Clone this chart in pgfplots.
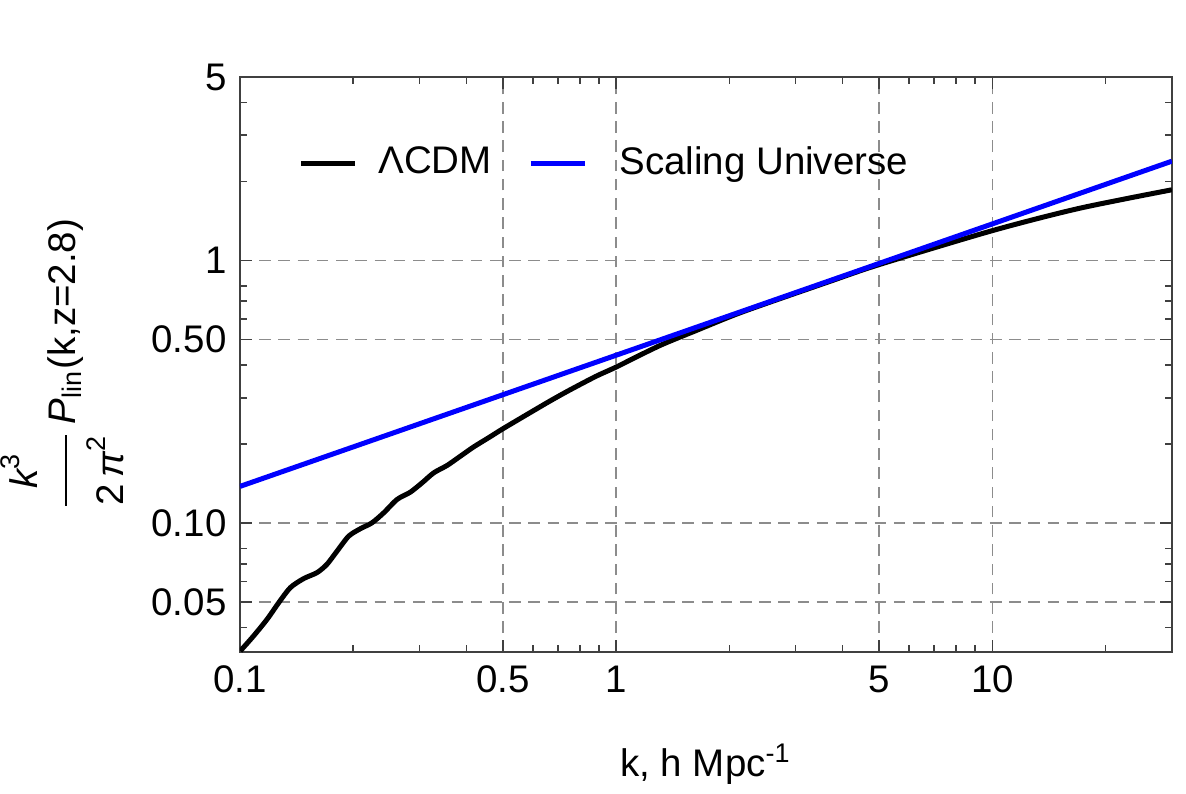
\documentclass[border=0pt]{standalone}
\usepackage{fontspec}
\setmainfont{Liberation Sans}
\usepackage{amsmath}
\usepackage{pgfplots}
\pgfplotsset{compat=1.18}
\begin{document}
\fontsize{10}{12}\selectfont
\begin{tikzpicture}
\begin{axis}[
    width=242.3pt, height=149.5pt, scale only axis,
    xmode=log, ymode=log,
    xmin=0.1, xmax=30, ymin=0.0323, ymax=5,
    xtick={0.1,0.5,1,5,10}, xticklabels={0.1,0.5,1,5,10},
    ytick={0.05,0.1,0.5,1,5}, yticklabels={0.05,0.10,0.50,1,5},
    minor xtick={0.2,0.3,0.4,0.6,0.7,0.8,0.9,2,3,4,6,7,8,9,20},
    minor ytick={0.04,0.06,0.07,0.08,0.2,0.3,0.4,0.6,0.7,0.8,2,3,4},
    tick align=inside, major tick length=3pt, minor tick length=1.8pt,
    xmajorgrids, ymajorgrids,
    major grid style={gray!90, dash pattern=on 3pt off 2pt, line width=0.4pt},
    axis line style={black!75, line width=0.4pt},
    every tick/.style={black!75, line width=0.4pt},
    /pgf/number format/assume math mode=true,
    tick label style={font=\fontsize{10}{12}\selectfont},
    xlabel={k, h Mpc\textsuperscript{-1}},
    xlabel style={at={(axis description cs:0.5,-0.158)}, anchor=north, inner sep=0pt},
    ylabel={$\dfrac{\text{\itshape k}^{\text{3}}\rule[-6pt]{0pt}{6pt}}{\rule{0pt}{13.5pt}\text{2\,\itshape π}^{\text{2}}}\,\text{\itshape P}_{\text{lin}}\text{(k,z=2.8)}$},
    ylabel style={at={(axis description cs:-0.124,0.5)}, anchor=south, inner sep=0pt},
    legend style={draw=none, fill=none, at={(axis description cs:0.050,0.85)}, anchor=west,
        font=\fontsize{10}{12}\selectfont,
        /tikz/every even column/.append style={column sep=7.5pt}},
    legend columns=-1,
    legend image code/.code={\draw[#1] (0pt,0pt) -- (14pt,0pt);},
]
\addplot[black, line width=1.3pt, smooth, tension=0.45] coordinates {
    (0.1002,0.0326) (0.1087,0.0372) (0.1180,0.0430) (0.1268,0.0498)
    (0.1361,0.0568) (0.1477,0.0615) (0.1603,0.0648) (0.1703,0.0697)
    (0.1811,0.0782) (0.1945,0.0892) (0.2089,0.0952) (0.2244,0.1003)
    (0.2411,0.1095) (0.2616,0.1231) (0.2837,0.1312) (0.3048,0.1424)
    (0.3275,0.1555) (0.3552,0.1658) (0.3853,0.1798) (0.4182,0.1952)
    (0.46,0.2123) (0.498,0.228) (0.575,0.2576) (0.664,0.2907)
    (0.75,0.3204) (0.883,0.3622) (1.0,0.393) (1.151,0.4347)
    (1.33,0.48) (1.63,0.541) (2.17,0.638) (3.69,0.832) (5.0,0.965)
    (10,1.30) (17,1.58) (30,1.86)
};
\addlegendentry{\hspace{3.4pt}ΛCDM}
\addplot[blue, line width=1.3pt] coordinates {
    (0.1,0.138) (1,0.436) (10,1.379) (30,2.39)
};
\addlegendentry{\hspace{6.4pt}Scaling Universe}
\end{axis}
\path (-62.4pt,-36.92pt) rectangle (245.96pt,169.52pt);
\end{tikzpicture}
\end{document}
